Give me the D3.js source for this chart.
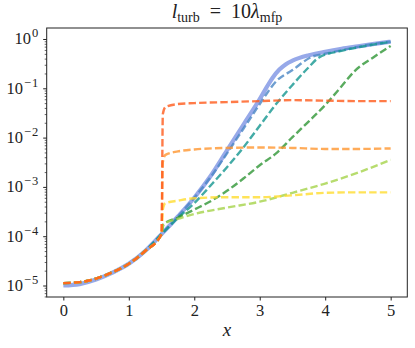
<!DOCTYPE html>
<html><head><meta charset="utf-8">
<script src="https://cdn.jsdelivr.net/npm/d3@7"></script>
<style>html,body{margin:0;padding:0;background:#fff;} svg{display:block;}</style>
</head><body>
<svg id="c" width="415" height="348"></svg>
<script>
// ---- data ----
const xTicks = [0, 1, 2, 3, 4, 5];
const yTicks = [1e-5, 1e-4, 1e-3, 1e-2, 1e-1, 1];
const yTickExp = ["−5", "−4", "−3", "−2", "−1", "0"];

// reference solid curve
const solidX = [0, 0.25, 0.5, 0.75, 1, 1.25, 1.5, 1.75, 2, 2.25, 2.5, 2.75, 3, 3.1, 3.2, 3.3, 3.4, 3.5, 3.75, 4, 4.25, 4.5, 4.75, 5];
const solidY = [1.00e-5, 1.07e-5, 1.32e-5, 1.82e-5, 2.75e-5, 5.01e-5, 1.10e-4, 2.51e-4, 6.03e-4, 1.66e-3, 5.50e-3, 1.82e-2, 6.03e-2, 0.102, 0.166, 0.240, 0.309, 0.363, 0.468, 0.550, 0.631, 0.708, 0.794, 0.881];

// shared early part of all dashed curves
const baseX = [0, 0.25, 0.5, 0.75, 1, 1.25, 1.5];
const baseY = [1.12e-5, 1.17e-5, 1.38e-5, 1.86e-5, 2.75e-5, 5.01e-5, 1.10e-4];

const blueDashX = [1.75, 2, 2.25, 2.5, 2.75, 3, 3.1, 3.25, 3.5, 3.8, 4, 4.25, 4.5, 4.75, 5];
const blueDashY = [2.51e-4, 6.03e-4, 1.58e-3, 4.79e-3, 1.51e-2, 4.79e-2, 7.59e-2, 0.138, 0.234, 0.437, 0.501, 0.589, 0.692, 0.794, 0.881];

const tealX = [1.75, 2, 2.25, 2.5, 2.75, 3, 3.25, 3.5, 3.75, 3.9, 4.25, 4.5, 4.75, 5];
const tealY = [2.34e-4, 4.68e-4, 1.07e-3, 2.51e-3, 6.31e-3, 1.74e-2, 4.79e-2, 0.117, 0.269, 0.417, 0.575, 0.676, 0.776, 0.871];

const greenX = [1.53, 1.75, 2, 2.25, 2.5, 2.75, 3, 3.25, 3.5, 3.75, 4, 4.25, 4.45, 4.75, 5];
const greenY = [1.74e-4, 2.40e-4, 3.47e-4, 5.13e-4, 8.32e-4, 1.48e-3, 2.75e-3, 4.79e-3, 1.02e-2, 2.14e-2, 4.57e-2, 0.110, 0.224, 0.437, 0.724];

const limeX = [1.53, 1.75, 2, 2.5, 3, 3.5, 4, 4.5, 5];
const limeY = [1.74e-4, 2.24e-4, 2.82e-4, 3.80e-4, 5.01e-4, 7.59e-4, 1.17e-3, 1.95e-3, 3.55e-3];

const yellowX = [1.52, 1.56, 1.75, 2, 2.5, 3, 3.5, 4, 4.5, 5];
const yellowY = [3.47e-4, 4.68e-4, 5.25e-4, 5.89e-4, 6.17e-4, 6.17e-4, 6.76e-4, 7.59e-4, 7.76e-4, 7.76e-4];

const orangeX = [1.52, 1.56, 1.75, 2, 2.5, 3, 3.5, 4, 4.5, 5];
const orangeY = [3.16e-3, 4.47e-3, 5.25e-3, 5.75e-3, 6.17e-3, 6.31e-3, 6.17e-3, 5.89e-3, 5.89e-3, 6.03e-3];

const redX = [1.52, 1.56, 1.75, 2, 2.5, 3, 3.5, 4, 4.5, 5];
const redY = [3.02e-2, 4.17e-2, 4.79e-2, 5.01e-2, 5.25e-2, 5.50e-2, 5.75e-2, 5.62e-2, 5.50e-2, 5.50e-2];

// ---- layout ----
const svg = d3.select("#c");
const L = 46.7, R = 407.3, T = 28, B = 297;
const x = d3.scaleLinear().domain([-0.254, 5.254]).range([L, R]);
const y = d3.scaleLog().domain([Math.pow(10, -5.233), Math.pow(10, 0.223)]).range([B, T]);
const serif = "'Liberation Serif','DejaVu Serif',serif";

const line = d3.line().x(d => x(d[0])).y(d => y(d[1])).curve(d3.curveMonotoneX);
const zipXY = (xs, ys) => xs.map((v, i) => [v, ys[i]]);

svg.append("defs").append("clipPath").attr("id", "pc")
  .append("rect").attr("x", L).attr("y", T).attr("width", R - L).attr("height", B - T);
const g = svg.append("g").attr("clip-path", "url(#pc)");

// solid
g.append("path").datum(zipXY(solidX, solidY)).attr("d", line)
  .attr("fill", "none").attr("stroke", "#97a9e9").attr("stroke-width", 4.2);

const dashed = [
  {xs: blueDashX, ys: blueDashY, c: "#4a86c4"},
  {xs: tealX, ys: tealY, c: "#149690"},
  {xs: greenX, ys: greenY, c: "#2f9636"},
  {xs: limeX, ys: limeY, c: "#a5d34a"},
  {xs: yellowX, ys: yellowY, c: "#ffdc2e"},
  {xs: orangeX, ys: orangeY, c: "#ff9630"},
  {xs: redX, ys: redY, c: "#ff5a1a"}
];
dashed.forEach(s => {
  g.append("path").datum(zipXY(baseX.concat(s.xs), baseY.concat(s.ys))).attr("d", line)
    .attr("fill", "none").attr("stroke", s.c).attr("stroke-width", 2.4)
    .attr("stroke-opacity", 0.8).attr("stroke-dasharray", "7.4,3.2");
});

// frame
svg.append("rect").attr("x", L).attr("y", T).attr("width", R - L).attr("height", B - T)
  .attr("fill", "none").attr("stroke", "#222").attr("stroke-width", 1);

// x axis
const xa = svg.append("g").attr("transform", `translate(0,${B})`)
  .call(d3.axisBottom(x).tickValues(xTicks).tickSize(3.5).tickFormat(d3.format("d")));
xa.select(".domain").remove();
xa.selectAll(".tick line").attr("stroke", "#222");
xa.selectAll(".tick text").attr("font-family", serif).attr("font-size", 16.5)
  .attr("fill", "#222").attr("y", 7).attr("dy", "0.71em");

// y axis major
const ya = svg.append("g").attr("transform", `translate(${L},0)`)
  .call(d3.axisLeft(y).tickValues(yTicks).tickSize(3.5).tickFormat(""));
ya.select(".domain").remove();
ya.selectAll(".tick line").attr("stroke", "#222");
// minor
const minor = [];
for (let e = -6; e <= 0; e++) for (let m = 2; m <= 9; m++) {
  const v = m * Math.pow(10, e);
  if (v >= y.domain()[0] && v <= y.domain()[1]) minor.push(v);
}
const ym = svg.append("g").attr("transform", `translate(${L},0)`)
  .call(d3.axisLeft(y).tickValues(minor).tickSize(2).tickFormat(""));
ym.select(".domain").remove();
ym.selectAll(".tick line").attr("stroke", "#222").attr("stroke-width", 0.7);

// y tick labels 10^k
yTicks.forEach((v, i) => {
  const t = svg.append("text").attr("x", 39).attr("y", y(v) + 5.5)
    .attr("text-anchor", "end").attr("font-family", serif).attr("font-size", 16.5).attr("fill", "#222");
  t.append("tspan").text("10");
  t.append("tspan").attr("dx", 1).attr("dy", -7).attr("font-size", 12.5).attr("letter-spacing", 0.8).text(yTickExp[i]);
});

// x label
svg.append("text").attr("x", (L + R) / 2).attr("y", 336).attr("text-anchor", "middle")
  .attr("font-family", serif).attr("font-style", "italic").attr("font-size", 19).attr("fill", "#222").text("x");

// title
const tt = svg.append("text").attr("x", (L + R) / 2).attr("y", 18).attr("text-anchor", "middle")
  .attr("font-family", serif).attr("font-size", 20).attr("fill", "#222");
tt.append("tspan").attr("font-style", "italic").text("l");
tt.append("tspan").attr("font-size", 14).attr("dy", 4).text("turb");
tt.append("tspan").attr("dy", -4).text("\u2002=\u200210");
tt.append("tspan").attr("font-style", "italic").text("λ");
tt.append("tspan").attr("font-size", 14).attr("dy", 4).text("mfp");
</script>
</body></html>
